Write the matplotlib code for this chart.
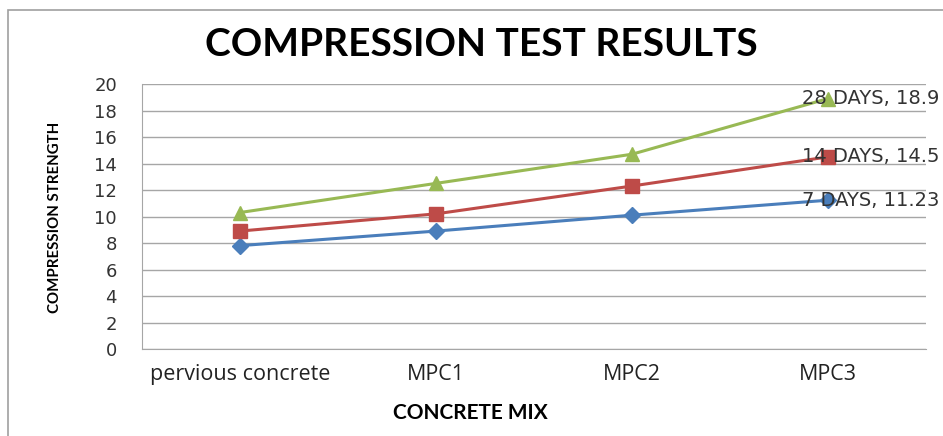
import matplotlib.pyplot as plt
from matplotlib.patches import Rectangle

# chart data
mixes = ['pervious concrete', 'MPC1', 'MPC2', 'MPC3']
days_7 = [7.8, 8.9, 10.1, 11.23]
days_14 = [8.9, 10.2, 12.3, 14.5]
days_28 = [10.3, 12.5, 14.7, 18.9]
series_names = ['7 DAYS', '14 DAYS', '28 DAYS']

narrow = ['Lato', 'DejaVu Sans']

fig = plt.figure(figsize=(9.43, 4.36), dpi=100)
ax = fig.add_axes([142 / 943, 1 - 349 / 436, 784 / 943, 265 / 436])

# outer chart frame
fig.patches.append(Rectangle((8 / 943, -0.1), 1.2, 1 - 10 / 436 + 0.1,
                             transform=fig.transFigure, fill=False,
                             ec='#a0a0a0', lw=1.2))

x = list(range(len(mixes)))
styles = [('#4a7ebb', 'D', 8), ('#be4b48', 's', 10), ('#98b954', '^', 10)]
for vals, (c, m, ms), name in zip([days_7, days_14, days_28], styles, series_names):
    ax.plot(x, vals, color=c, lw=2.2, marker=m, markersize=ms, zorder=3)
    ax.annotate('%s, %s' % (name, vals[-1]), (x[-1], vals[-1]),
                xytext=(-19, 0), textcoords='offset points',
                ha='left', va='center', fontsize=14, color='#333333',
                fontfamily='DejaVu Sans', annotation_clip=False, zorder=4)

ax.set_xlim(-0.5, len(mixes) - 0.5)
ax.set_ylim(0, 20)
ax.set_yticks(range(0, 21, 2))
ax.set_xticks(x)
ax.set_xticklabels(mixes, fontsize=15.5, fontfamily='Open Sans')
ax.tick_params(axis='y', length=0, pad=18, labelsize=13, labelcolor='#333333')
ax.tick_params(axis='x', length=0, pad=11, labelcolor='#222222')
ax.grid(axis='y', color='#a6a6a6', lw=1)
ax.set_axisbelow(True)
for s in ['top', 'right']:
    ax.spines[s].set_visible(False)
for s in ['left', 'bottom']:
    ax.spines[s].set_color('#a6a6a6')

fig.text(481 / 943, 1 - 45 / 436, 'COMPRESSION TEST RESULTS', ha='center', va='center',
         fontsize=28, fontweight='bold', family=narrow)
fig.text(55 / 943, 1 - 217 / 436, 'COMPRESSION STRENGTH', ha='center', va='center',
         rotation=90, fontsize=10.8, fontweight='bold', family=narrow)
fig.text(470 / 943, 1 - 413 / 436, 'CONCRETE MIX', ha='center', va='center',
         fontsize=15, fontweight='bold', family=narrow)

fig.savefig('out.png', dpi=100)
